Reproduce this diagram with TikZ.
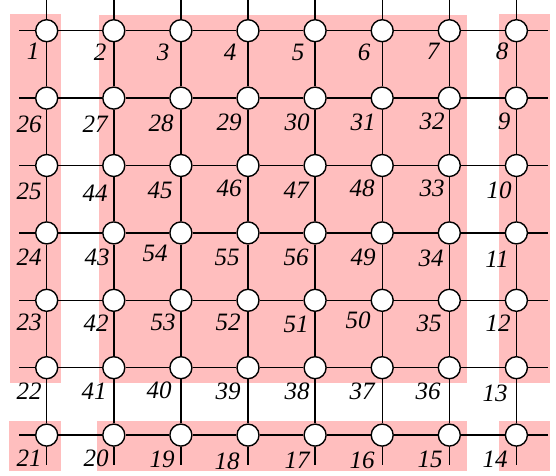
\documentclass[tikz,border=0pt]{standalone}
\usepackage{fontspec}
\setmainfont{Liberation Serif}
\definecolor{pinkbg}{RGB}{255,190,190}
\begin{document}
\begin{tikzpicture}[x=1pt,y=-1pt,
  vtx/.style={circle,draw=black,fill=white,line width=1.4pt,minimum size=22pt,inner sep=0pt},
  edge/.style={line width=1.4pt},
  lbl/.style={font=\fontsize{25}{30}\selectfont\itshape,inner sep=0pt},
  band/.style={fill=pinkbg,draw=none}]
\useasboundingbox (0,0) rectangle (556,475);
% pink bands
\fill[band] (10,14) rectangle (61,383);
\fill[band] (99,15) rectangle (467,383);
\fill[band] (499,14) rectangle (550,383);
\fill[band] (9,421) rectangle (61,471);
\fill[band] (97,421) rectangle (467,471);
\fill[band] (499,421) rectangle (550,471);
% vertices
\foreach \r in {0,...,6} {
  \foreach \c in {0,...,7} {
    \node[vtx] (v-\r-\c) at ({46.7+67.1*\c},{30.7+67.4*\r}) {};
  }
}
% horizontal edges
\foreach \r in {0,...,6} {
  \foreach \c [evaluate=\c as \d using int(\c+1)] in {0,...,6} {
    \draw[edge] (v-\r-\c) -- (v-\r-\d);
  }
}
% vertical edges
\foreach \r [evaluate=\r as \s using int(\r+1)] in {0,...,5} {
  \foreach \c in {0,...,7} {
    \draw[edge] (v-\r-\c) -- (v-\s-\c);
  }
}
% stubs
\foreach \c in {0,...,7} {
  \coordinate (top-\c) at ({46.7+67.1*\c},0);
  \coordinate (bot-\c) at ({46.7+67.1*\c},465);
  \draw[edge] (v-0-\c) -- (top-\c);
  \draw[edge] (v-6-\c) -- (bot-\c);
}
\foreach \r in {0,...,6} {
  \coordinate (lft-\r) at (19,{30.7+67.4*\r});
  \coordinate (rgt-\r) at (548,{30.7+67.4*\r});
  \draw[edge] (v-\r-0) -- (lft-\r);
  \draw[edge] (v-\r-7) -- (rgt-\r);
}
% labels
\foreach \t/\x/\y in {
  1/33/51, 2/100/52, 3/163/52, 4/230/52, 5/298/52, 6/364/52, 7/433/51, 8/502/51,
  26/29/124, 27/95/124, 28/161/123, 29/229/122, 30/297/122, 31/363/122, 32/432/121, 9/504/121,
  25/29/191, 44/95/193, 45/160/190, 46/229/188, 47/296/190, 48/362/188, 33/432/188, 10/499/190,
  24/29/257, 43/97/257, 54/155/253, 55/227/257, 56/296/257, 49/363/257, 34/431/258, 11/497/259,
  23/29/322, 42/96/323, 53/163/322, 52/228/322, 51/296/324, 50/358/320, 35/429/323, 12/498/323,
  22/29/391, 41/94/391, 40/159/390, 39/228/391, 38/297/391, 37/362/391, 36/428/391, 13/495/393,
  21/29/458, 20/96/458, 19/162/459, 18/227/461, 17/297/460, 16/362/460, 15/430/459, 14/495/459} {
  \node[lbl] (l-\t) at (\x,\y) {\t};
}
\end{tikzpicture}
\end{document}
